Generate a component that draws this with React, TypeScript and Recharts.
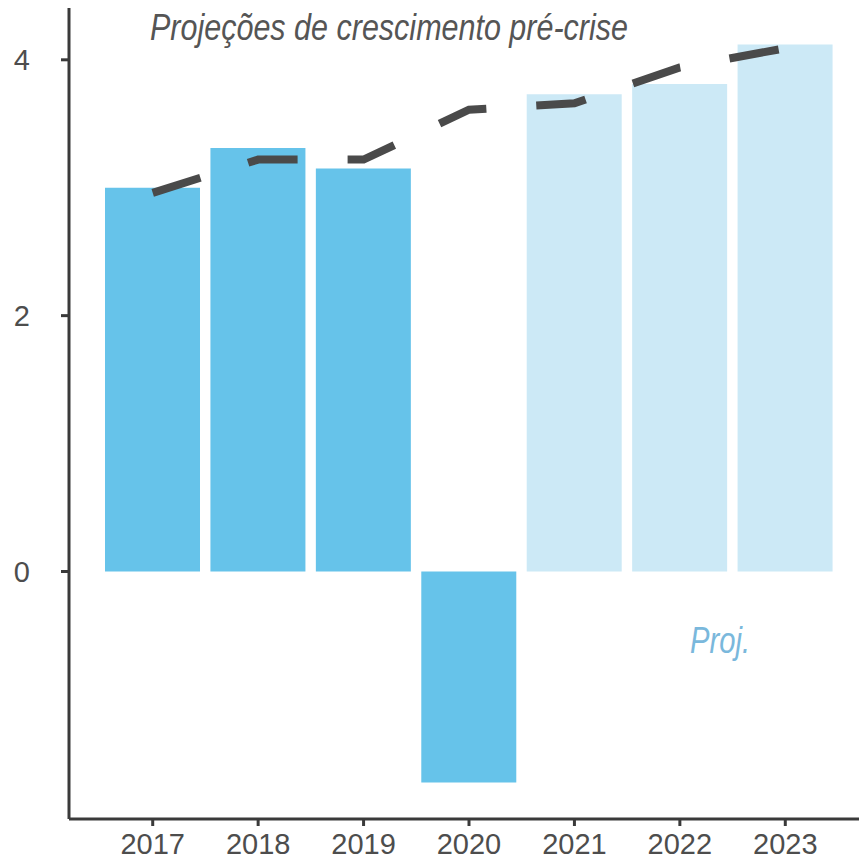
import React from "react";
import {
  ComposedChart,
  Bar,
  Line,
  XAxis,
  YAxis,
  Cell,
  Customized,
} from "recharts";

// valores
const years = ["2017", "2018", "2019", "2020", "2021", "2022", "2023"];
const growth = [3.0, 3.31, 3.15, -1.65, 3.73, 3.81, 4.12];
const preCrisis = [2.96, 3.22, 3.22, 3.61, 3.66, 3.94, 4.09];
const firstProjYear = 2021;
const yTicks = [0, 2, 4];

const data = years.map((y, i) => ({
  year: y,
  growth: growth[i],
  preCrisis: preCrisis[i],
}));

const FONT = "'Liberation Sans', Arial, sans-serif";
const DARK_BLUE = "#66c3ea";
const LIGHT_BLUE = "#cce9f6";
const AXIS = "#3a3a3a";
const TEXT = "#4d4d4d";

function Annotations() {
  return (
    <g>
      <text
        x={150}
        y={40}
        fontFamily={FONT}
        fontStyle="italic"
        fontSize={36}
        fill="#555555"
        textLength={478}
        lengthAdjust="spacingAndGlyphs"
      >
        Projeções de crescimento pré-crise
      </text>
      <text
        x={690}
        y={653}
        fontFamily={FONT}
        fontStyle="italic"
        fontSize={36}
        fill="#7ab8dc"
        textLength={60}
        lengthAdjust="spacingAndGlyphs"
      >
        Proj.
      </text>
    </g>
  );
}

export default function App() {
  return (
    <div style={{ position: "absolute", left: 0, top: 0 }}>
      <ComposedChart
        width={859}
        height={861}
        data={data}
        margin={{ top: 8, right: 0, bottom: 0, left: 0 }}
      >
        <XAxis
          dataKey="year"
          padding={{ left: 31, right: 21 }}
          height={42}
          tickSize={7}
          tickMargin={7}
          axisLine={{ stroke: AXIS, strokeWidth: 3 }}
          tickLine={{ stroke: AXIS, strokeWidth: 3 }}
          tick={{ fontSize: 29, fill: TEXT, fontFamily: FONT }}
        />
        <YAxis
          width={69}
          domain={[-1.935, 4.405]}
          allowDataOverflow
          ticks={yTicks}
          tickSize={8}
          tickMargin={31}
          axisLine={{ stroke: AXIS, strokeWidth: 3 }}
          tickLine={{ stroke: AXIS, strokeWidth: 3 }}
          tick={{ fontSize: 29, fill: TEXT, fontFamily: FONT }}
        />
        <Bar dataKey="growth" barSize={95} isAnimationActive={false}>
          {data.map((d, i) => (
            <Cell
              key={`cell-${i}`}
              fill={Number(d.year) >= firstProjYear ? LIGHT_BLUE : DARK_BLUE}
            />
          ))}
        </Bar>
        <Line
          dataKey="preCrisis"
          type="linear"
          stroke="#4a4a4a"
          strokeWidth={8}
          strokeDasharray="50 50"
          dot={false}
          activeDot={false}
          isAnimationActive={false}
        />
        <Customized component={Annotations} />
      </ComposedChart>
    </div>
  );
}
